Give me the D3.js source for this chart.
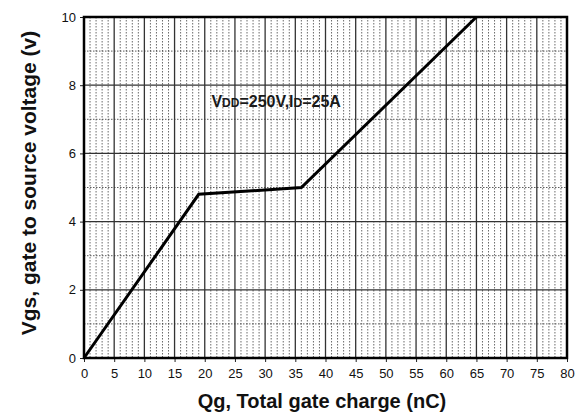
<!DOCTYPE html>
<html>
<head>
<meta charset="utf-8">
<script src="https://cdn.jsdelivr.net/npm/d3@7"></script>
<style>
  body { margin: 0; background: #fff; }
  text { font-family: Arial, "Liberation Sans", sans-serif; }
</style>
</head>
<body>
<div id="graph"></div>
<script>
// gate charge curve
const qg = [0, 19, 36, 65];
const vgs = [0, 4.8, 5.0, 10];
const xTicks = [0, 5, 10, 15, 20, 25, 30, 35, 40, 45, 50, 55, 60, 65, 70, 75, 80];
const yTicks = [0, 2, 4, 6, 8, 10];

const width = 583, height = 413;
const margin = {left: 84, right: 16, top: 17, bottom: 55};
const chartWidth = width - margin.left - margin.right;
const chartHeight = height - margin.top - margin.bottom;

const svg = d3.select("#graph").append("svg")
    .attr("width", width)
    .attr("height", height);

const chart = svg.append("g")
    .attr("transform", `translate(${margin.left}, ${margin.top})`);

const x = d3.scaleLinear().domain([0, 80]).range([0, chartWidth]);
const y = d3.scaleLinear().domain([0, 10]).range([chartHeight, 0]);

// minor vertical grid, every 1 nC
chart.append("g").selectAll("line")
    .data(d3.range(1, 80).filter(d => d % 5 !== 0))
    .enter().append("line")
    .attr("x1", d => x(d)).attr("x2", d => x(d))
    .attr("y1", 0).attr("y2", chartHeight)
    .attr("stroke", "#444")
    .attr("stroke-width", 0.8)
    .attr("stroke-dasharray", "1.5,1.5");

// minor horizontal grid at odd volts
chart.append("g").selectAll("line")
    .data([1, 3, 5, 7, 9])
    .enter().append("line")
    .attr("x1", 0).attr("x2", chartWidth)
    .attr("y1", d => y(d)).attr("y2", d => y(d))
    .attr("stroke", "#333")
    .attr("stroke-width", 0.8)
    .attr("stroke-dasharray", "1.5,1.5");

// major grid
chart.append("g").selectAll("line")
    .data(xTicks.slice(1, -1))
    .enter().append("line")
    .attr("x1", d => x(d)).attr("x2", d => x(d))
    .attr("y1", 0).attr("y2", chartHeight)
    .attr("stroke", "#333")
    .attr("stroke-width", 1.3);

chart.append("g").selectAll("line")
    .data(yTicks.slice(1, -1))
    .enter().append("line")
    .attr("x1", 0).attr("x2", chartWidth)
    .attr("y1", d => y(d)).attr("y2", d => y(d))
    .attr("stroke", "#333")
    .attr("stroke-width", 1.3);

// axes
const xAxis = chart.append("g")
    .attr("transform", `translate(0, ${chartHeight})`)
    .call(d3.axisBottom(x).tickValues(xTicks).tickSize(4).tickPadding(7));
const yAxis = chart.append("g")
    .call(d3.axisLeft(y).tickValues(yTicks).tickSize(4).tickPadding(4));

[xAxis, yAxis].forEach(a => {
  a.select(".domain").remove();
  a.selectAll("text").attr("font-size", "13px").attr("fill", "#111")
    .style("font-family", "Arial, 'Liberation Sans', sans-serif");
  a.selectAll("line").attr("stroke", "#222");
});

// frame
chart.append("rect")
    .attr("width", chartWidth)
    .attr("height", chartHeight)
    .attr("fill", "none")
    .attr("stroke", "#000")
    .attr("stroke-width", 2.5);

// curve
const line = d3.line().x((d, i) => x(d)).y((d, i) => y(vgs[i]));
chart.append("path")
    .datum(qg)
    .attr("d", line)
    .attr("fill", "none")
    .attr("stroke", "#000")
    .attr("stroke-width", 3)
    .attr("stroke-linejoin", "miter");

// annotation
const note = chart.append("text")
    .attr("x", x(21.1))
    .attr("y", y(7.36))
    .attr("font-size", "16px")
    .attr("font-weight", "bold")
    .attr("fill", "#1a1a1a");
note.append("tspan").text("V");
note.append("tspan").attr("font-size", "12px").text("DD");
note.append("tspan").text("=250V,I");
note.append("tspan").attr("font-size", "12px").text("D");
note.append("tspan").text("=25A");

// axis titles
svg.append("text")
    .attr("x", 322)
    .attr("y", 408)
    .attr("text-anchor", "middle")
    .attr("font-size", "20px")
    .attr("font-weight", "bold")
    .attr("fill", "#111")
    .text("Qg, Total gate charge (nC)");

svg.append("text")
    .attr("transform", `translate(36, 183) rotate(-90)`)
    .attr("text-anchor", "middle")
    .attr("font-size", "21px")
    .attr("font-weight", "bold")
    .attr("fill", "#111")
    .text("Vgs, gate to source voltage (v)");
</script>
</body>
</html>
